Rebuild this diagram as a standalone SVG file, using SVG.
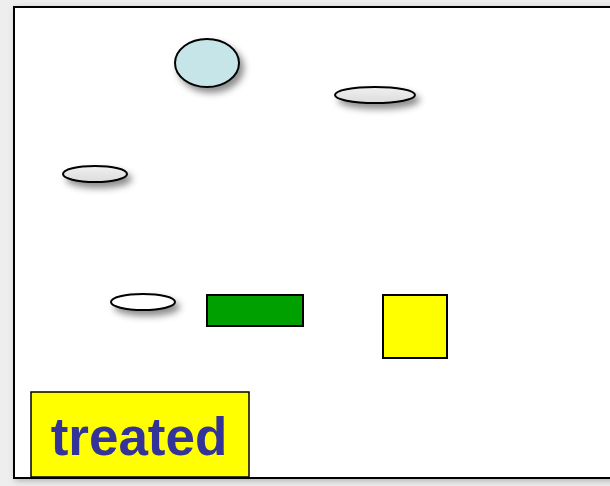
<svg xmlns="http://www.w3.org/2000/svg" width="610" height="486" viewBox="0 0 610 486">
<defs>
<filter id="sh" x="-50%" y="-80%" width="200%" height="300%">
<feDropShadow dx="4" dy="5" stdDeviation="3.5" flood-color="#000" flood-opacity="0.45"/>
</filter>
<filter id="fs" x="-5%" y="-5%" width="110%" height="110%">
<feDropShadow dx="2" dy="2" stdDeviation="3" flood-color="#000" flood-opacity="0.25"/>
</filter>
<linearGradient id="gr" x1="0" y1="0" x2="0" y2="1">
<stop offset="0" stop-color="#f0f0f0"/>
<stop offset="1" stop-color="#dcdcdc"/>
</linearGradient>
</defs>
<style>
.n{stroke:#000;stroke-width:2}
.t{font-family:"Liberation Sans",Arial,sans-serif;font-weight:bold;font-size:53px;fill:#333399}
</style>
<rect x="0" y="0" width="610" height="486" fill="#eeeeee"/>
<rect x="14" y="7" width="620" height="471" fill="#ffffff" stroke="#000" stroke-width="2" filter="url(#fs)"/>
<g id="n1"><ellipse class="n" cx="207" cy="63" rx="32" ry="24" fill="#c5e5e9" filter="url(#sh)"/></g>
<g id="n2"><ellipse class="n" cx="375" cy="95" rx="40" ry="8" fill="url(#gr)" filter="url(#sh)"/></g>
<g id="n3"><ellipse class="n" cx="95" cy="174" rx="32" ry="8" fill="url(#gr)" filter="url(#sh)"/></g>
<g id="n4"><ellipse class="n" cx="143" cy="302" rx="32" ry="8" fill="#ffffff" filter="url(#sh)"/></g>
<g id="n5"><rect class="n" x="207" y="295" width="96" height="31" fill="#00a000"/></g>
<g id="n6"><rect class="n" x="383" y="295" width="64" height="63" fill="#ffff00"/></g>
<g id="n7"><rect x="31" y="392" width="218" height="85" fill="#ffff00" stroke="#000" stroke-width="1.5"/>
<text class="t" x="139" y="455" text-anchor="middle">treated</text></g>
<g id="connectors"/>
</svg>
